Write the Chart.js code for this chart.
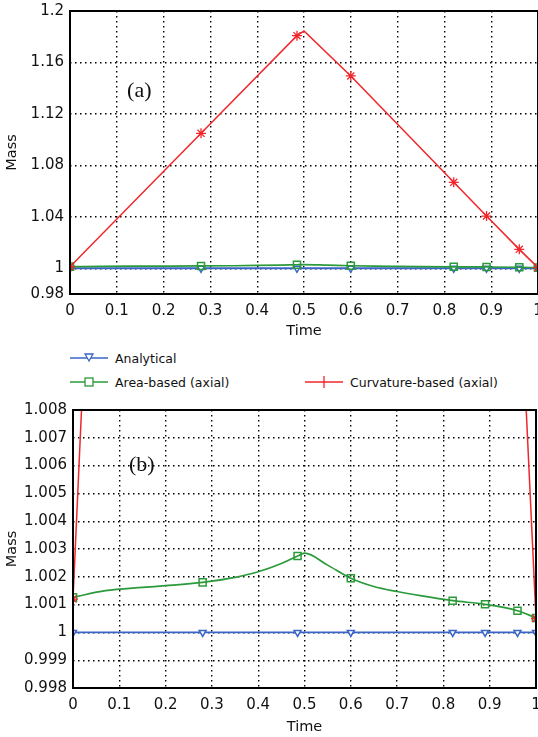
<!DOCTYPE html>
<html>
<head>
<meta charset="utf-8">
<script src="https://cdn.jsdelivr.net/npm/chart.js@4"></script>
<style>
  html, body { margin: 0; padding: 0; background: #fff; overflow: hidden; }
  body { width: 538px; height: 737px; position: relative; font-family: 'DejaVu Sans', sans-serif; }
  #top { position: absolute; left: 0; top: 0; }
  #bottom { position: absolute; left: 0; top: 395px; }
  #legend { position: absolute; left: 70px; top: 348px; font-size: 12.5px; color: #111; }
  .item { position: absolute; height: 20px; white-space: nowrap; display: flex; align-items: center; }
  .item svg { margin-right: 7px; }
</style>
</head>
<body>
<canvas id="top" width="560" height="340"></canvas>
<div id="legend"></div>
<canvas id="bottom" width="560" height="342"></canvas>
<script>
// mass vs time, three schemes
const markerTimes = [0, 0.28, 0.485, 0.6, 0.82, 0.89, 0.96, 1];
const analyticalMass = [1, 1, 1, 1, 1, 1, 1, 1];

const areaTimes = [0, 0.07, 0.15, 0.2, 0.28, 0.35, 0.4, 0.45, 0.485, 0.5, 0.55, 0.6, 0.65, 0.7, 0.75, 0.82, 0.89, 0.96, 1];
const areaMass = [1.00126, 1.0015, 1.00162, 1.00168, 1.0018, 1.00198, 1.00218, 1.00248, 1.00275, 1.00285, 1.00242, 1.00195, 1.00165, 1.00147, 1.00132, 1.00114, 1.00101, 1.00078, 1.00052];

const curvatureTimes = [0, 0.28, 0.485, 0.5, 0.6, 0.82, 0.89, 0.96, 1];
const curvatureMass = [1.0012, 1.1049, 1.1808, 1.1844, 1.1495, 1.0668, 1.0406, 1.0147, 1.0005];

const seriesNames = ['Analytical', 'Area-based (axial)', 'Curvature-based (axial)'];

const topTicks = [0.98, 1, 1.04, 1.08, 1.12, 1.16, 1.2];
const bottomTicks = [0.998, 0.999, 1, 1.001, 1.002, 1.003, 1.004, 1.005, 1.006, 1.007, 1.008];

const BLUE = '#3a64c8', GREEN = '#2b9a3a', RED = '#f0262b', INK = '#111';

Chart.defaults.font.family = "'DejaVu Sans', sans-serif";
Chart.defaults.font.size = 15;
Chart.defaults.color = INK;

const toXY = (times, values) => times.map((t, i) => ({ x: t, y: values[i] }));
const markerAt = r => ctx => (ctx.raw && markerTimes.includes(ctx.raw.x)) ? r : 0;
const fmt = v => String(parseFloat(Number(v).toFixed(4)));

function datasets() {
  return [
    {
      label: seriesNames[0], data: toXY(markerTimes, analyticalMass), order: 3,
      borderColor: BLUE, borderWidth: 1.8, pointStyle: 'triangle', rotation: 180,
      pointRadius: markerAt(4), pointBorderColor: BLUE, pointBackgroundColor: '#fff', pointBorderWidth: 1.5
    },
    {
      label: seriesNames[1], data: toXY(areaTimes, areaMass), order: 2,
      borderColor: GREEN, borderWidth: 1.7, cubicInterpolationMode: 'monotone', pointStyle: 'rect',
      pointRadius: markerAt(5), pointBorderColor: GREEN, pointBackgroundColor: 'rgba(255,255,255,0)', pointBorderWidth: 1.5
    },
    {
      label: seriesNames[2], data: toXY(curvatureTimes, curvatureMass), order: 1,
      borderColor: RED, borderWidth: 1.5, tension: 0, pointStyle: 'star',
      pointRadius: markerAt(5), pointBorderColor: RED, pointBorderWidth: 1.3
    }
  ];
}

// solid box around the plot area plus the panel tag
function framePlugin(tag, tagX, tagY) {
  return {
    id: 'frame',
    afterDraw(chart) {
      const { ctx, chartArea: a, scales } = chart;
      ctx.save();
      ctx.strokeStyle = '#000';
      ctx.lineWidth = 2;
      ctx.strokeRect(a.left, a.top, a.right - a.left, a.bottom - a.top);
      ctx.font = "22px 'Liberation Serif', serif";
      ctx.fillStyle = INK;
      ctx.textBaseline = 'middle';
      ctx.fillText(tag, scales.x.getPixelForValue(tagX), scales.y.getPixelForValue(tagY));
      ctx.restore();
    }
  };
}

function makeChart(id, o) {
  return new Chart(document.getElementById(id), {
    type: 'line',
    data: { datasets: datasets() },
    options: {
      responsive: false,
      animation: false,
      layout: { padding: { left: 0, top: o.padTop, right: o.padRight, bottom: 0 } },
      plugins: { legend: { display: false }, tooltip: { enabled: false } },
      scales: {
        x: {
          type: 'linear', min: 0, max: 1,
          ticks: { stepSize: 0.1, padding: 8, callback: fmt, maxRotation: 0 },
          grid: { color: '#000', lineWidth: 1.4, drawTicks: false },
          border: { display: false, dash: [1.5, 3.5] },
          title: { display: true, text: 'Time', font: { size: 14.5 }, padding: { top: 0, bottom: o.timePad } },
          afterFit(s) { s.height = o.xHeight; s.paddingLeft = 0; s.paddingRight = 0; }
        },
        y: {
          type: 'linear', min: o.yMin, max: o.yMax,
          afterBuildTicks(s) { s.ticks = o.yTicks.map(v => ({ value: v })); },
          ticks: { padding: 6, callback: fmt, autoSkip: false },
          grid: { color: '#000', lineWidth: 1.4, drawTicks: false },
          border: { display: false, dash: [1.5, 3.5] },
          title: { display: true, text: 'Mass', font: { size: 14.5 }, padding: { top: 4, bottom: 0 } },
          afterFit(s) { s.width = o.yWidth; s.paddingTop = 0; s.paddingBottom = 0; }
        }
      }
    },
    plugins: [framePlugin(o.tag, o.tagX, o.tagY)]
  });
}

makeChart('top', {
  yMin: 0.98, yMax: 1.2, yTicks: topTicks, padTop: 11, padRight: 22,
  xHeight: 46, yWidth: 70, timePad: 0, tag: '(a)', tagX: 0.122, tagY: 1.1375
});

makeChart('bottom', {
  yMin: 0.998, yMax: 1.008, yTicks: bottomTicks, padTop: 15, padRight: 24,
  xHeight: 49, yWidth: 73, timePad: 1, tag: '(b)', tagX: 0.121, tagY: 1.006
});

// legend between the two panels
const swatches = [
  '<polygon points="15,6 23,6 19,13" fill="#fff" stroke="' + BLUE + '" stroke-width="1.3"/>',
  '<rect x="15" y="6" width="8" height="8" fill="#fff" stroke="' + GREEN + '" stroke-width="1.3"/>',
  '<path d="M19 4 V16" stroke="' + RED + '" stroke-width="1.3"/>'
];
const colours = [BLUE, GREEN, RED];
const spots = [[0, 0], [0, 24], [235, 24]];
const legend = document.getElementById('legend');
seriesNames.forEach((name, i) => {
  const el = document.createElement('div');
  el.className = 'item';
  el.style.left = spots[i][0] + 'px';
  el.style.top = spots[i][1] + 'px';
  el.innerHTML = '<svg width="38" height="20"><line x1="0" y1="10" x2="38" y2="10" stroke="' + colours[i] +
    '" stroke-width="1.6"/>' + swatches[i] + '</svg><span>' + name + '</span>';
  legend.appendChild(el);
});
</script>
</body>
</html>
